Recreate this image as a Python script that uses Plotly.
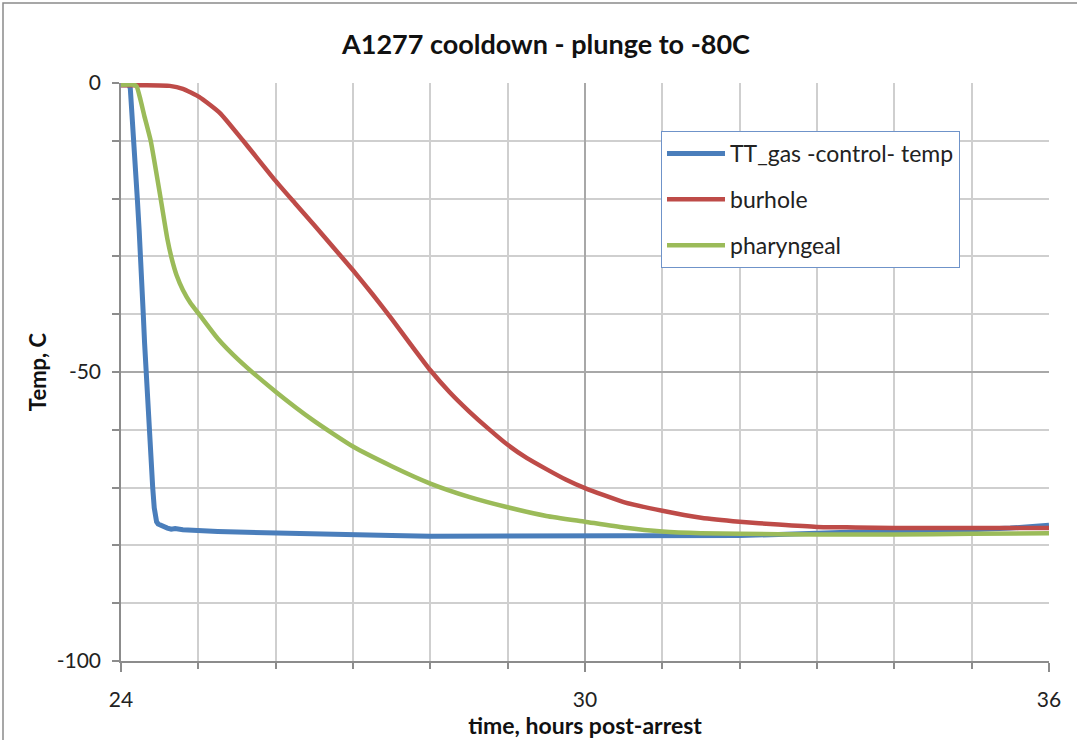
import plotly.graph_objects as go

# ---------------- data ----------------
gas_hours = [24.0, 24.10, 24.12, 24.14, 24.168, 24.19, 24.211, 24.235, 24.255, 24.27,
             24.288, 24.305, 24.323, 24.345, 24.366, 24.39, 24.41, 24.43, 24.445, 24.46,
             24.48, 24.52, 24.56, 24.6, 24.65, 24.7, 24.8, 24.9, 25.0, 25.25,
             25.5, 25.75, 26.0, 26.5, 27.0, 27.5, 28.0, 28.5, 29.0, 29.5,
             30.0, 30.5, 31.0, 31.5, 32.0, 32.5, 33.0, 33.5, 34.0, 34.5,
             35.0, 35.5, 35.8, 36.0]
gas_temp = [-0.3, -0.3, -0.9, -4.5, -10.0, -16.0, -20.0, -25.5, -30.0, -35.0,
            -40.0, -45.0, -50.0, -55.5, -60.0, -65.5, -70.0, -73.5, -75.2, -75.9,
            -76.3, -76.6, -76.9, -77.0, -77.2, -77.1, -77.3, -77.4, -77.4, -77.6,
            -77.7, -77.8, -77.9, -78.0, -78.2, -78.3, -78.4, -78.4, -78.5, -78.5,
            -78.5, -78.5, -78.5, -78.4, -78.3, -78.1, -77.8, -77.7, -77.6, -77.5,
            -77.3, -77.0, -76.7, -76.5]

burhole_hours = [24.0, 24.3, 24.63, 24.8, 25.01, 25.28, 25.58, 25.99, 26.25, 26.5,
                 26.75, 27.0, 27.25, 27.5, 27.75, 28.0, 28.25, 28.5, 28.75, 29.0,
                 29.25, 29.5, 29.75, 30.0, 30.5, 31.0, 31.5, 32.0, 32.5, 33.0,
                 33.5, 34.0, 35.0, 36.0]
burhole_temp = [-0.4, -0.4, -0.5, -1.0, -2.4, -5.2, -10.0, -16.8, -20.8, -24.6,
                -28.5, -32.4, -36.5, -40.8, -45.3, -49.7, -53.5, -56.8, -59.8, -62.6,
                -64.9, -66.8, -68.6, -70.1, -72.5, -74.0, -75.2, -75.9, -76.4, -76.8,
                -76.9, -77.0, -77.0, -77.0]

pharyngeal_hours = [24.0, 24.17, 24.203, 24.25, 24.3, 24.384, 24.513, 24.6, 24.66, 24.72,
                    24.8, 24.9, 25.01, 25.25, 25.52, 26.0, 26.5, 27.0, 27.5, 28.0,
                    28.5, 29.0, 29.5, 30.0, 30.5, 31.0, 31.5, 32.0, 33.0, 34.0,
                    35.0, 36.0]
pharyngeal_temp = [-0.3, -0.3, -0.6, -2.8, -5.6, -10.0, -20.0, -27.0, -30.6, -33.3,
                   -35.8, -38.1, -40.0, -44.2, -47.9, -53.4, -58.5, -62.9, -66.3, -69.3,
                   -71.6, -73.4, -74.9, -75.9, -76.9, -77.6, -77.9, -78.0, -78.1, -78.1,
                   -78.0, -77.9]

series_names = ["TT_gas -control- temp", "burhole", "pharyngeal"]
series_colors = ["#4a7ebb", "#be4b48", "#9bbb59"]
series_shapes = ["linear", "spline", "spline"]
series_widths = [5, 4.5, 4.5]

x_ticks = [24, 30, 36]
x_tick_text = ["24", "30", "36"]
x_minor = list(range(24, 37))
y_ticks = [0, -50, -100]
y_tick_text = ["0", "-50", "-100"]
y_minor = list(range(-100, 1, 10))

# ---------------- figure ----------------
W, H = 1077, 740
L, R, T, B = 121, 1049, 83, 661

fig = go.Figure()
for i, (xs, ys) in enumerate([(gas_hours, gas_temp), (burhole_hours, burhole_temp),
                              (pharyngeal_hours, pharyngeal_temp)]):
    line = dict(color=series_colors[i], width=series_widths[i], shape=series_shapes[i])
    if series_shapes[i] == "spline":
        line["smoothing"] = 0.5
    fig.add_trace(go.Scatter(
        x=xs, y=ys, mode="lines", name=series_names[i],
        line=line, legendgroup=str(i),
    ))

font_family = "Lato, 'Open Sans', sans-serif"

fig.update_layout(
    width=W, height=H,
    margin=dict(l=L, r=W - R, t=T, b=H - B, autoexpand=False),
    paper_bgcolor="white", plot_bgcolor="white",
    font=dict(family=font_family, size=21, color="#222222"),
    title=dict(text="<b>A1277 cooldown - plunge to -80C</b>",
               x=(546 - L) / (R - L), xref="paper", xanchor="center",
               y=1 - 45 / H, yref="container", yanchor="middle",
               font=dict(size=27, color="#111111")),
    showlegend=True,
    legend=dict(
        x=(661 - L) / (R - L), y=(B - 131) / (B - T), xanchor="left", yanchor="top",
        bgcolor="white", bordercolor="#6f93c9", borderwidth=1,
        font=dict(size=23, color="#222222"),
        tracegroupgap=13, traceorder="grouped",
        itemwidth=58,
    ),
)

fig.update_xaxes(
    range=[24, 36], tickmode="array", tickvals=x_ticks, ticktext=x_tick_text,
    ticks="outside", ticklen=9, tickcolor="#8c8c8c", tickwidth=1.5,
    showline=True, linecolor="#8c8c8c", linewidth=1.5,
    showgrid=True, gridcolor="#a8a8a8", gridwidth=1.5, zeroline=False,
    ticklabelstandoff=10,
    tickfont=dict(size=21, color="#222222"),
    minor=dict(tickmode="array", tickvals=x_minor, ticks="outside", ticklen=6,
               tickcolor="#8c8c8c", tickwidth=1.5, showgrid=True,
               gridcolor="#cfcfcf", gridwidth=1.5),
    title=dict(text="<b>time, hours post-arrest</b>", standoff=0,
               font=dict(size=23, color="#111111")),
)
fig.update_yaxes(
    range=[-100, 0], tickmode="array", tickvals=y_ticks, ticktext=y_tick_text,
    ticks="outside", ticklen=7, tickcolor="#8c8c8c", tickwidth=1.5,
    showline=True, linecolor="#8c8c8c", linewidth=1.5,
    showgrid=True, gridcolor="#a8a8a8", gridwidth=1.5, zeroline=False,
    ticklabelstandoff=7,
    tickfont=dict(size=21, color="#222222"),
    minor=dict(tickmode="array", tickvals=y_minor, ticks="outside", ticklen=7,
               tickcolor="#8c8c8c", tickwidth=1.5, showgrid=True,
               gridcolor="#cfcfcf", gridwidth=1.5),
    title=dict(text="<b>Temp, C</b>", standoff=4,
               font=dict(size=22, color="#111111")),
)

# outer chart border
pw, ph = R - L, B - T
fig.add_shape(type="rect", xref="paper", yref="paper", layer="below",
              x0=(3 - L) / pw, x1=(1085 - L) / pw,
              y0=(B - 750) / ph, y1=(B - 3) / ph,
              line=dict(color="#8a8a8a", width=1.5), fillcolor="rgba(0,0,0,0)")

fig.write_html("out.html", config={"displayModeBar": False},
               post_script="document.body.style.margin='0';")
